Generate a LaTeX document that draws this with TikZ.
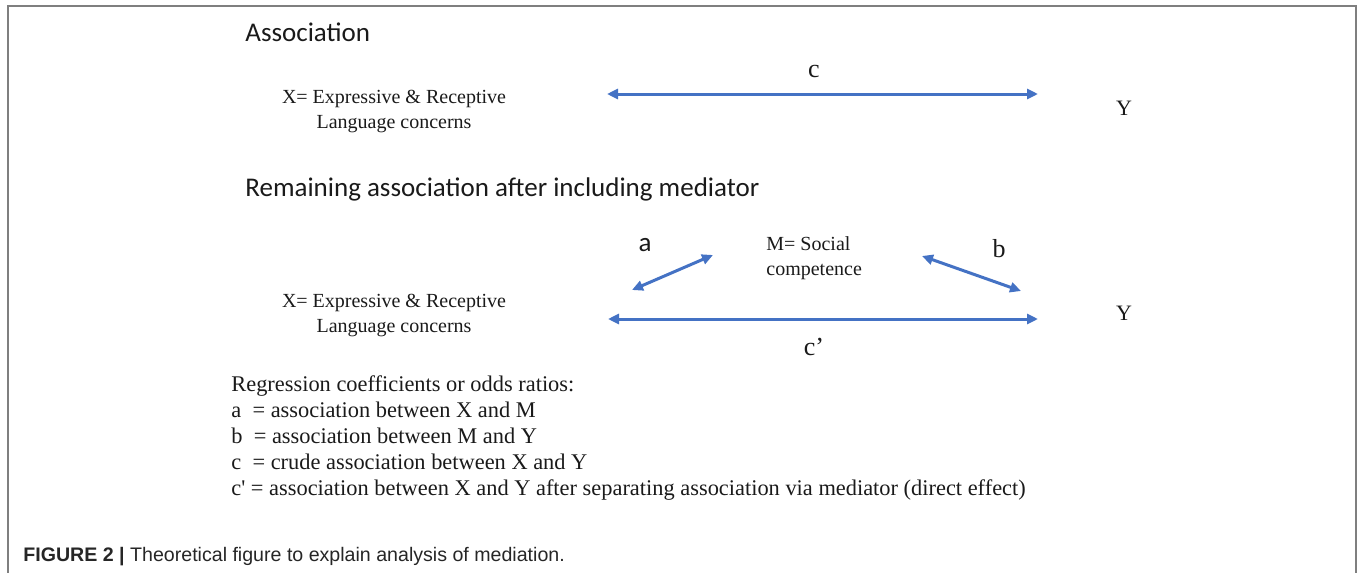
\documentclass[tikz,border=0pt]{standalone}
\usepackage{fontspec}
\setmainfont{Liberation Serif}
\newfontfamily\calibri{Carlito}
\newfontfamily\capfont{Liberation Sans}
\usetikzlibrary{arrows.meta}
\definecolor{arrowblue}{HTML}{4472C4}
\definecolor{framegray}{HTML}{7F7F7F}
\definecolor{inkgray}{HTML}{1A1A1A}

\begin{document}
\begin{tikzpicture}[x=0.5pt,y=-0.5pt,text=inkgray,
  head/.style={font=\calibri\fontsize{13.5}{16}\selectfont,anchor=west,inner sep=0pt},
  var/.style={font=\fontsize{10}{12.5}\selectfont,align=center,inner sep=0pt},
  med/.style={font=\fontsize{10}{12.5}\selectfont,align=left,anchor=north west,inner sep=0pt},
  lab/.style={font=\fontsize{13}{15}\selectfont,inner sep=0pt},
  legend/.style={font=\fontsize{11.2}{13}\selectfont,align=left,anchor=north west,inner sep=0pt},
  assoc/.style={draw=arrowblue,line width=1.5pt,
    {Triangle[length=5.5pt,width=5pt]}-{Triangle[length=5.5pt,width=5pt]}}]
  \useasboundingbox (0,0) rectangle (1357,573);
  \draw[framegray,line width=1pt] (8,573) |- (1356,6) -- (1356,573);

  % association
  \node[head] (head1) at (245,32) {Association};
  \node[var] (x1) at (394,112) {X= Expressive \& Receptive\\Language concerns};
  \node[var,font=\fontsize{11}{12}\selectfont] (y1) at (1124,108) {Y};
  \coordinate (c1l) at (607,94);
  \coordinate (c1r) at (1038,94);
  \draw[assoc] (c1l) -- (c1r);
  \node[lab] (c) at (814,72) {c};

  % remaining association
  \node[head] (head2) at (245,189) {Remaining association after including mediator};
  \node[med] (m) at (766,236) {M= Social\\competence};
  \node[lab,font=\calibri\fontsize{13.5}{15}\selectfont] (a) at (645,245) {a};
  \node[lab] (b) at (999,249) {b};
  \node[var] (x2) at (394,316) {X= Expressive \& Receptive\\Language concerns};
  \node[var,font=\fontsize{11}{12}\selectfont] (y2) at (1124,313) {Y};
  \coordinate (al) at (632,290);
  \coordinate (ar) at (713,255);
  \coordinate (bl) at (922,256);
  \coordinate (br) at (1021,291);
  \coordinate (c2l) at (608,319);
  \coordinate (c2r) at (1038,319);
  \draw[assoc] (al) -- (ar);
  \draw[assoc] (bl) -- (br);
  \draw[assoc] (c2l) -- (c2r);
  \node[lab] (c2) at (814,347) {c’};

  % legend
  \node[legend] (leg) at (231,375) {Regression coefficients or odds ratios:\\
    a\enspace= association between X and M\\
    b\enspace= association between M and Y\\
    c\enspace= crude association between X and Y\\
    c\textquotesingle{} = association between X and Y after separating association via mediator (direct effect)};

  % caption
  \node[anchor=west,inner sep=0pt,text=black!85,font=\capfont\fontsize{9.8}{11}\selectfont] (cap) at (23,557)
    {\textbf{FIGURE 2 |} Theoretical figure to explain analysis of mediation.};
\end{tikzpicture}
\end{document}
